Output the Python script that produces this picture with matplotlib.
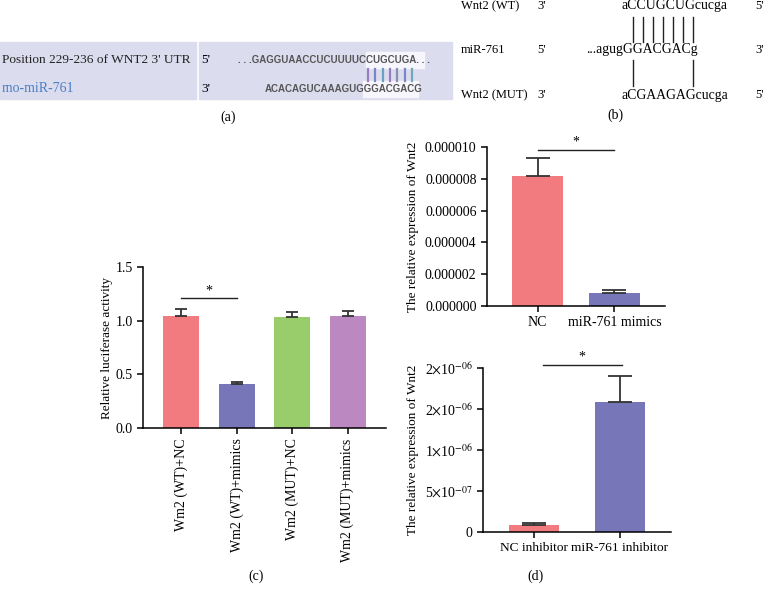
import matplotlib
matplotlib.use("Agg")
import matplotlib.pyplot as plt
from matplotlib.patches import Rectangle
import numpy as np

plt.rcParams['font.family'] = ['Liberation Serif', 'DejaVu Serif']
plt.rcParams['mathtext.fontset'] = 'stix'

# panel (c) luciferase data
c_labels = ["Wm2 (WT)+NC", "Wm2 (WT)+mimics", "Wm2 (MUT)+NC", "Wm2 (MUT)+mimics"]
c_vals = [1.045, 0.41, 1.035, 1.04]
c_err = [0.065, 0.02, 0.05, 0.05]
c_colors = ['#f27b7f', '#7676b9', '#99cc6b', '#bb88c1']

# panel (d) top: mimics
dt_labels = ["NC", "miR-761 mimics"]
dt_vals = [8.2e-6, 0.82e-6]
dt_err = [1.1e-6, 0.18e-6]

# panel (d) bottom: inhibitor
db_labels = ["NC inhibitor", "miR-761 inhibitor"]
db_vals = [8.5e-8, 1.585e-6]
db_err = [2.0e-8, 3.15e-7]
db_ticks = [0, 5e-7, 1e-6, 1.5e-6, 2e-6]
db_ticklabels = ["0", r"5$\times$10$^{-07}$", r"1$\times$10$^{-06}$",
                 r"2$\times$10$^{-06}$", r"2$\times$10$^{-06}$"]

d_colors = ['#f27b7f', '#7676b9']

W, H = 764, 594
fig = plt.figure(figsize=(W / 100, H / 100), dpi=100)


def fx(x):
    return x / W


def fy(y):
    return 1 - y / H


def px_axes(l, t, r, b):
    return fig.add_axes([l / W, 1 - b / H, (r - l) / W, (b - t) / H])


def style(ax):
    for s in ['top', 'right']:
        ax.spines[s].set_visible(False)
    for s in ['left', 'bottom']:
        ax.spines[s].set_linewidth(1.1)
    ax.tick_params(direction='out', length=4, width=1.1, labelsize=10)


def bars(ax, vals, errs, colors, width, cap):
    x = np.arange(len(vals))
    ax.bar(x, vals, width, color=colors, zorder=2)
    ax.errorbar(x, vals, yerr=[np.zeros(len(vals)), errs], fmt='none',
                ecolor='#333333', elinewidth=1.3, capsize=cap, capthick=1.3, zorder=3)
    return x


def box(x0, y0, x1, y1, color):
    fig.patches.append(Rectangle((fx(x0), fy(y1)), (x1 - x0) / W, (y1 - y0) / H,
                                 transform=fig.transFigure, color=color, zorder=0))


# ---- panel (a) ----
box(0, 42, 196, 99, '#dcdcef')
box(199, 42, 452, 99, '#dcdcef')
box(366, 52, 424, 68, '#f6f6fc')
box(363, 81, 418, 97, '#f6f6fc')
fig.text(fx(2), fy(60), "Position 229-236 of WNT2 3' UTR", fontsize=9.6,
         va='center', color='#222222')
fig.text(fx(2), fy(89), "rno-miR-761", fontsize=10, va='center', color='#4a7fc1')
fig.text(fx(201), fy(60), "5'", fontsize=9.6, va='center')
fig.text(fx(201), fy(89), "3'", fontsize=9.6, va='center')
fig.text(fx(238), fy(60), ". . .GAGGUAACCUCUUUUCCUGCUGA. . .", fontsize=7.0,
         family='Liberation Sans', weight='bold', va='center', color='#555555')
fig.text(fx(265), fy(89), "ACACAGUCAAAGUGGGACGACG", fontsize=7.0,
         family='Liberation Sans', weight='bold', va='center', color='#555555')
pair_colors = ['#9a7cc0', '#7b86c6', '#6aa0c0', '#9a7cc0', '#8890b0', '#7b86c6', '#70a8b8']
for i, pc in enumerate(pair_colors):
    xx = fx(368 + i * 7.3)
    fig.add_artist(plt.Line2D([xx, xx], [fy(81), fy(69)], color=pc, lw=1.6))
fig.text(fx(228), fy(117), "(a)", fontsize=10, ha='center', va='center')

# ---- panel (b) ----
rows = [(6, "Wnt2 (WT)", "3'", "aCCUGCUGcucga", "5'", 622),
        (50, "miR-761", "5'", "...agugGGACGACg", "3'", 586),
        (95, "Wnt2 (MUT)", "3'", "aCGAAGAGcucga", "5'", 622)]
for y, name, e1, seq, e2, sx in rows:
    fig.text(fx(461), fy(y), name, fontsize=9, va='center')
    fig.text(fx(537), fy(y), e1, fontsize=9, va='center')
    fig.text(fx(sx), fy(y), seq, fontsize=9.9, va='center')
    fig.text(fx(755), fy(y), e2, fontsize=9, va='center')
for i in range(7):
    xx = fx(633 + i * 10.0)
    fig.add_artist(plt.Line2D([xx, xx], [fy(17), fy(42)], color='#222222', lw=1.0))
for xp in [633, 693]:
    fig.add_artist(plt.Line2D([fx(xp), fx(xp)], [fy(60), fy(86)], color='#222222', lw=1.0))
fig.text(fx(615), fy(115), "(b)", fontsize=10, ha='center', va='center')

# ---- panel (c) ----
axc = px_axes(143, 267, 386, 428)
style(axc)
xc = bars(axc, c_vals, c_err, c_colors, 0.65, 4.5)
axc.set_xlim(-0.69, 3.69)
axc.set_ylim(0, 1.5)
axc.set_yticks([0, 0.5, 1.0, 1.5])
axc.set_yticklabels(["0.0", "0.5", "1.0", "1.5"])
axc.set_xticks(xc)
axc.set_xticklabels(c_labels, rotation=90)
axc.set_ylabel("Relative luciferase activity", fontsize=9.5, labelpad=2)
axc.plot([0, 1], [1.21, 1.21], color='#222222', lw=1.0)
axc.text(0.5, 1.22, "*", ha='center', va='bottom', fontsize=10)
fig.text(fx(256), fy(576), "(c)", fontsize=10, ha='center', va='center')

# ---- panel (d) top ----
axt = px_axes(487, 147, 665, 306)
style(axt)
xt = bars(axt, dt_vals, dt_err, d_colors, 0.67, 8.5)
axt.set_xlim(-0.66, 1.66)
axt.set_ylim(0, 1e-5)
ticks_t = np.arange(0, 1.01e-5, 2e-6)
axt.set_yticks(ticks_t)
axt.set_yticklabels(["%.6f" % t for t in ticks_t])
axt.set_xticks(xt)
axt.set_xticklabels(dt_labels)
axt.set_ylabel("The relative expression of Wnt2", fontsize=9.5, labelpad=4)
axt.plot([0, 1], [9.8e-6, 9.8e-6], color='#222222', lw=1.0, clip_on=False)
axt.text(0.5, 9.9e-6, "*", ha='center', va='bottom', fontsize=10)

# ---- panel (d) bottom ----
axb = px_axes(483, 368, 671, 532)
style(axb)
xb = bars(axb, db_vals, db_err, d_colors, 0.59, 8.5)
axb.set_xlim(-0.6, 1.6)
axb.set_ylim(0, 2e-6)
axb.set_yticks(db_ticks)
axb.set_yticklabels(db_ticklabels)
axb.set_xticks(xb)
axb.set_xticklabels(db_labels, fontsize=9.6)
axb.set_ylabel("The relative expression of Wnt2", fontsize=9.5, labelpad=4)
axb.plot([0.1, 1.03], [2.04e-6, 2.04e-6], color='#222222', lw=1.0, clip_on=False)
axb.text(0.56, 2.06e-6, "*", ha='center', va='bottom', fontsize=10, clip_on=False)
fig.text(fx(535), fy(576), "(d)", fontsize=10, ha='center', va='center')

fig.savefig("out.png", dpi=100)
